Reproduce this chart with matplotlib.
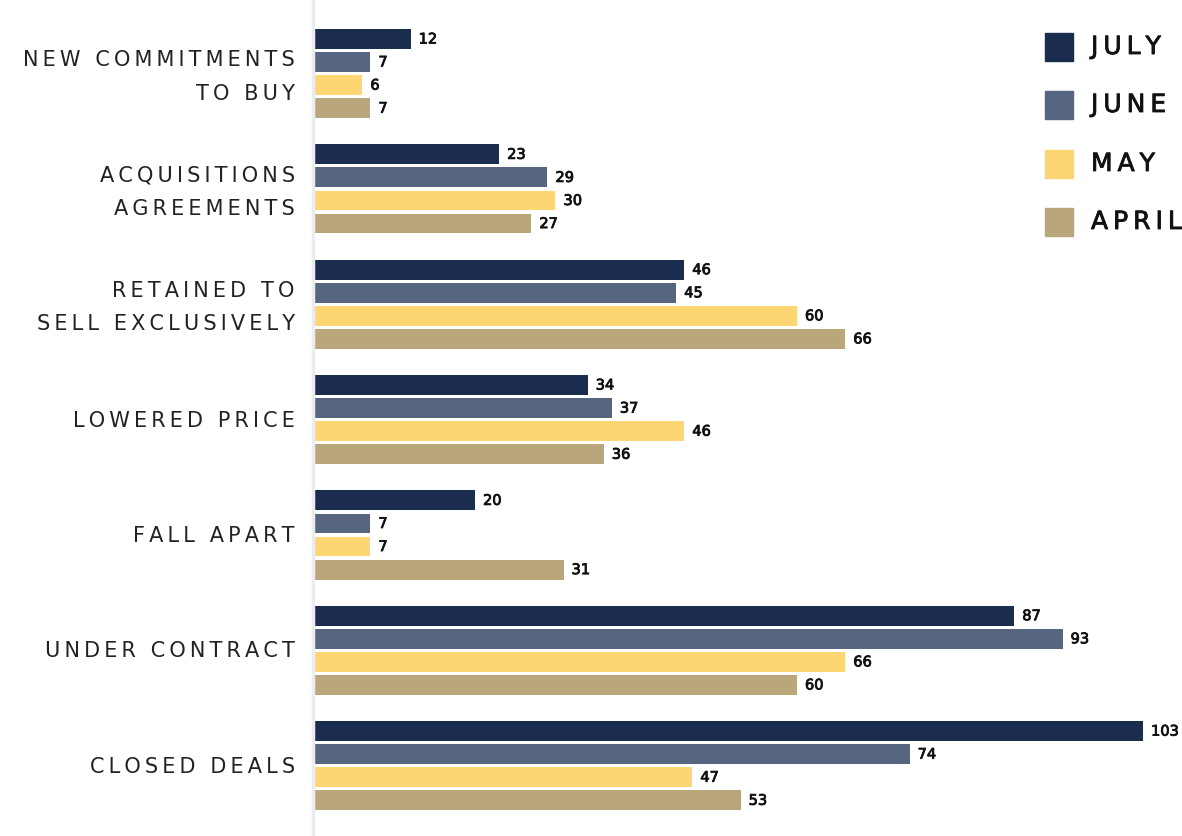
import matplotlib.pyplot as plt
import matplotlib.patches as mpatches
import matplotlib.patheffects as pe
import numpy as np

# categories and monthly values
categories = ['NEW COMMITMENTS\nTO BUY', 'ACQUISITIONS\nAGREEMENTS', 'RETAINED TO\nSELL EXCLUSIVELY',
              'LOWERED PRICE', 'FALL APART', 'UNDER CONTRACT', 'CLOSED DEALS']
months = ['JULY', 'JUNE', 'MAY', 'APRIL']
july = [12, 23, 46, 34, 20, 87, 103]
june = [7, 29, 45, 37, 7, 93, 74]
may = [6, 30, 60, 46, 7, 66, 47]
april = [7, 27, 66, 36, 31, 60, 53]
colors = ['#1b2d4f', '#566580', '#fdd572', '#b9a67b']


def spaced(s, sp='\u2009'):
    # fake letter spacing with thin spaces
    return '\n'.join(sp.join(line) for line in s.split('\n'))


W, H = 1182, 837
fig = plt.figure(figsize=(W / 100, H / 100), dpi=100)
fig.patch.set_facecolor('white')

# axes span from the baseline to the right edge, full height
left_px = 314
px_per_unit = (1143 - left_px) / 103
slot_px = 23.07
ax = fig.add_axes([left_px / W, 0, 1 - left_px / W, 1])
ax.set_xlim(0, (W - left_px) / px_per_unit)
ax.set_ylim((H - 40) / slot_px, -40 / slot_px)

medium = [pe.withStroke(linewidth=0.6, foreground='#111111')]

series = [july, june, may, april]
group_pos = np.arange(len(categories)) * 5
for j, vals in enumerate(series):
    y = group_pos + j
    ax.barh(y, vals, height=0.86, color=colors[j], clip_on=False)
    for yy, v in zip(y, vals):
        ax.text(v + 1.0, yy, str(v), va='center', ha='left', fontsize=10.5,
                color='#111111', clip_on=False, path_effects=medium)

for g, cat in zip(group_pos, categories):
    off = 1.6 if '\n' in cat else 1.5
    ax.text(-2.4, g + off, spaced(cat), ha='right', va='center', fontsize=15,
            color='#222222', linespacing=1.85, clip_on=False)

ax.axvline(-0.1, color='#ececf0', lw=2.5, clip_on=False)
for s in ax.spines.values():
    s.set_visible(False)
ax.set_xticks([])
ax.set_yticks([])

# legend
leg_y = [48, 106, 165, 223]
for m, c, yy in zip(months, colors, leg_y):
    fig.patches.append(mpatches.Rectangle((1045 / W, 1 - (yy + 14) / H), 28 / W, 28 / H,
                                          transform=fig.transFigure, color=c))
    fig.text(1091 / W, 1 - yy / H, spaced(m), ha='left', va='center', fontsize=18,
             color='#111111', path_effects=medium)

fig.savefig('out.png', dpi=100)
